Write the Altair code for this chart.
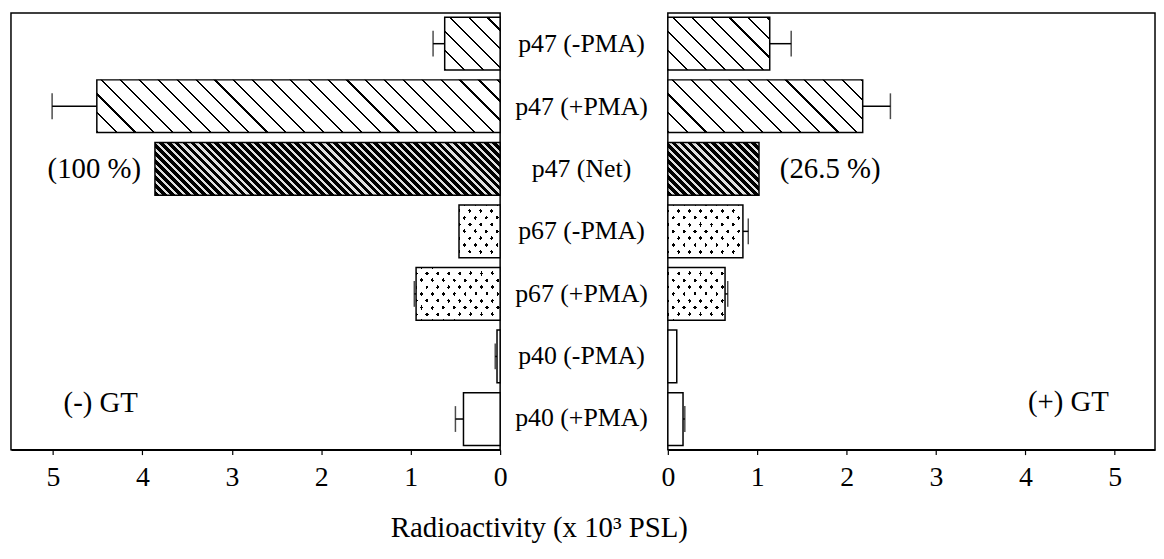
import altair as alt
import pandas as pd

# ---------------- data ----------------
categories = ["p47 (-PMA)", "p47 (+PMA)", "p47 (Net)", "p67 (-PMA)",
              "p67 (+PMA)", "p40 (-PMA)", "p40 (+PMA)"]
minus_values = [0.62, 4.51, 3.86, 0.46, 0.94, 0.035, 0.41]
minus_errors = [0.13, 0.50, 0.0, 0.0, 0.02, 0.02, 0.09]
plus_values = [1.14, 2.18, 1.02, 0.84, 0.64, 0.10, 0.17]
plus_errors = [0.24, 0.31, 0.0, 0.06, 0.03, 0.0, 0.02]
fill_kinds = ["hatch", "hatch", "dense", "dots", "dots", "plain", "plain"]
tick_values = [0, 1, 2, 3, 4, 5]
axis_title = "Radioactivity (x 10\u00b3 PSL)"
panel_labels = ["(-) GT", "(+) GT"]
net_labels = ["(100 %)", "(26.5 %)"]

# ---------------- layout / style ----------------
FONT = "Liberation Serif"
LEFT_W, MID_W, RIGHT_W, H = 493, 169, 491, 440
LEFT_MAX, RIGHT_MAX = 5.47, 5.45
P_IN, P_OUT = 0.157, 0.068
STEP = H / (len(categories) - P_IN + 2 * P_OUT)
BAR_H = STEP * (1 - P_IN)
CLEAR = "rgba(255,255,255,0)"


def stripe_gradient(w, h, k, period, on, c_on, c_off, slope="down", phase=0.0):
    """Linear gradient with hard stops that draws diagonal stripes in a bar."""
    w = max(w, 1.0)
    L = w + k * h
    a = (w + k * h) / (w * w + k * k * h * h)
    if slope == "down":
        x1, y1, x2, y2 = 0, 1, a * w, 1 - a * k * h
    else:
        x1, y1, x2, y2 = 0, 0, a * w, a * k * h
    stops = [{"offset": 0, "color": c_off}]
    s = phase
    while s < L:
        o1 = round(max(s, 0) / L, 5)
        o2 = round(min(s + on, L) / L, 5)
        stops += [{"offset": o1, "color": c_off}, {"offset": o1, "color": c_on},
                  {"offset": o2, "color": c_on}, {"offset": o2, "color": c_off}]
        s += period
    stops.append({"offset": 1, "color": c_off})
    return {"gradient": "linear", "x1": x1, "y1": y1, "x2": round(x2, 5),
            "y2": round(y2, 5), "stops": stops}


def panel(values, errors, xmax, width, reverse, net_label, net_align, net_dx,
          gt_label, gt_x, gt_y):
    df = pd.DataFrame({
        "cat": categories,
        "v": values,
        "e_end": [v + e for v, e in zip(values, errors)],
        "e": errors,
    })
    ppu = width / xmax
    axis = alt.Axis(values=tick_values, title=None, grid=False, labelFont=FONT,
                    labelFontSize=28, labelColor="black", labelFlush=False,
                    labelPadding=9, tickSize=5, tickColor="black", tickWidth=1.2,
                    domainColor="black", domainWidth=1.5, labelAngle=0)
    xscale = alt.Scale(domain=[0, xmax], reverse=reverse, nice=False, zero=True)
    y_enc = alt.Y("cat:N", sort=categories, axis=None,
                  scale=alt.Scale(paddingInner=P_IN, paddingOuter=P_OUT))
    x_enc = alt.X("v:Q", scale=xscale, axis=axis)

    base = alt.Chart(df)
    layers = []
    for c, v, kind in zip(categories, values, fill_kinds):
        w = v * ppu
        f = base.transform_filter(alt.datum.cat == c)
        if kind == "hatch":
            g = stripe_gradient(w, BAR_H, 1.0, 19.0, 2.2, "black", "white")
            layers.append(f.mark_bar(fill=g).encode(x=x_enc, y=y_enc))
        elif kind == "dense":
            g = stripe_gradient(w, BAR_H, 1.0, 8.0, 4.8, "black", "#e0e0e0")
            layers.append(f.mark_bar(fill=g).encode(x=x_enc, y=y_enc))
        elif kind == "dots":
            layers.append(f.mark_bar(fill="black").encode(x=x_enc, y=y_enc))
            g1 = stripe_gradient(w, BAR_H, 0.8, 11.0, 3.4, CLEAR, "white", "down", 3.0)
            g2 = stripe_gradient(w, BAR_H, 0.8, 11.0, 3.4, CLEAR, "white", "up", 3.0)
            layers.append(f.mark_bar(fill=g1).encode(x=x_enc, y=y_enc))
            layers.append(f.mark_bar(fill=g2).encode(x=x_enc, y=y_enc))
        else:
            layers.append(f.mark_bar(fill="white").encode(x=x_enc, y=y_enc))

    outline = base.mark_bar(fillOpacity=0, stroke="black", strokeWidth=1.5).encode(
        x=x_enc, y=y_enc)

    err = base.transform_filter(alt.datum.e > 0)
    err_rule = err.mark_rule(color="black", strokeWidth=1.5).encode(
        x=x_enc, x2="e_end:Q", y=y_enc)
    err_cap = err.mark_tick(color="black", thickness=1.5, size=26).encode(
        x=alt.X("e_end:Q", scale=xscale, axis=axis), y=y_enc)

    net = base.transform_filter(alt.datum.cat == categories[2]).transform_calculate(
        lab=f"'{net_label}'")
    net_text = net.mark_text(font=FONT, fontSize=29, align=net_align, dx=net_dx,
                             baseline="middle", color="black").encode(
        x=x_enc, y=y_enc, text="lab:N")

    gt_df = pd.DataFrame({"t": [gt_label]})
    gt_text = alt.Chart(gt_df).mark_text(font=FONT, fontSize=29, align="left",
                                         baseline="middle", color="black").encode(
        x=alt.value(gt_x), y=alt.value(gt_y), text="t:N")

    return alt.layer(*layers, outline, err_rule, err_cap, net_text, gt_text).properties(
        width=width, height=H)


left = panel(minus_values, minus_errors, LEFT_MAX, LEFT_W, True,
             net_labels[0], "right", -14, panel_labels[0], 53, 393)
right = panel(plus_values, plus_errors, RIGHT_MAX, RIGHT_W, False,
              net_labels[1], "left", 21, panel_labels[1], 363, 392)

mid_df = pd.DataFrame({"cat": categories})
middle = alt.Chart(mid_df, view=alt.ViewBackground(strokeOpacity=0)).mark_text(
    font=FONT, fontSize=26, align="center", baseline="middle", color="black"
).encode(
    y=alt.Y("cat:N", sort=categories, axis=None,
            scale=alt.Scale(paddingInner=P_IN, paddingOuter=P_OUT)),
    x=alt.value(82),
    text="cat:N",
).properties(width=MID_W, height=H)

chart = alt.hconcat(
    left, middle, right, spacing=0, bounds="flush",
    padding={"left": 2, "top": 2, "right": 0, "bottom": 0},
    title=alt.TitleParams(text=axis_title, orient="bottom", anchor="middle",
                          font=FONT, fontSize=29, fontWeight="normal",
                          color="black", offset=22, dx=-44),
).resolve_scale(y="independent").configure(
    background="white",
    view=alt.ViewConfig(stroke="black", strokeWidth=1.5),
)

chart.save("out.html", embed_options={"renderer": "svg", "actions": False})
